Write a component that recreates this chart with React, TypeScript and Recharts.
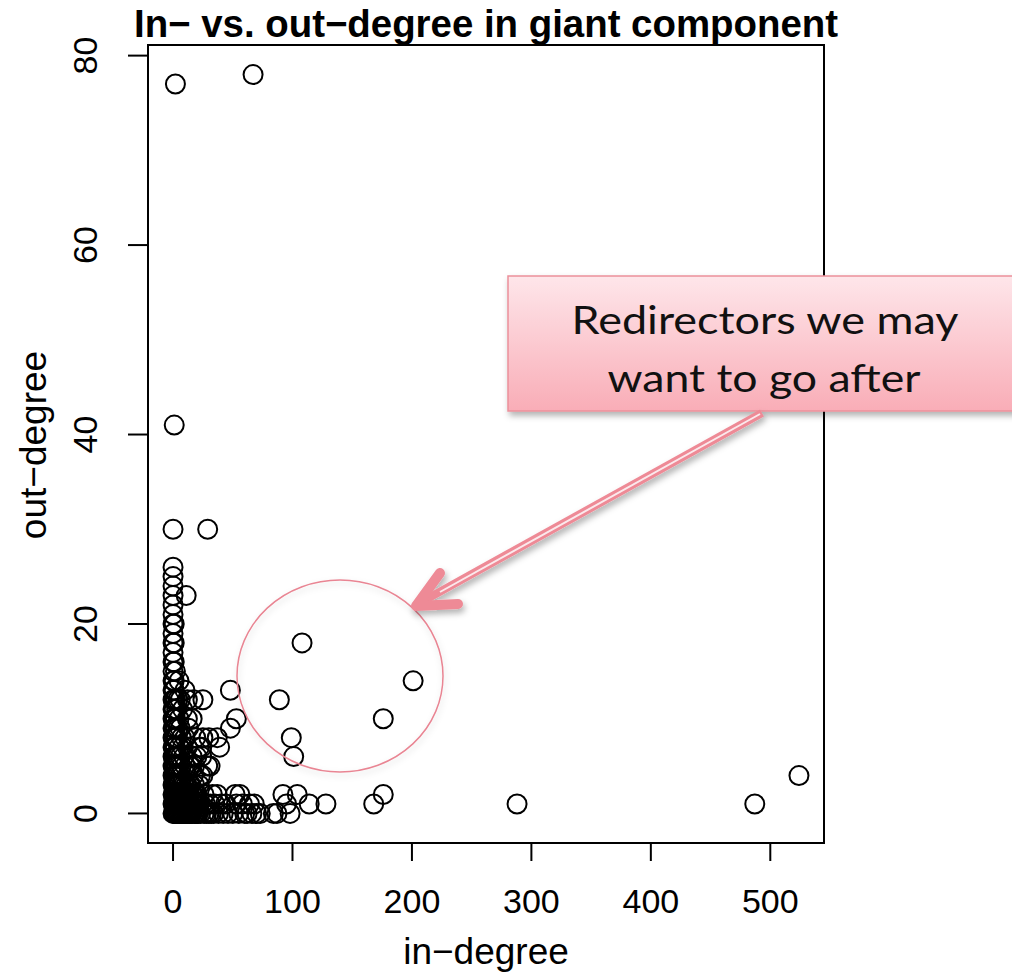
import { ReferenceArea, Scatter, ScatterChart, XAxis, YAxis } from "recharts";

// in-degree / out-degree pairs
const columnPoints: [number, number][] = [
  [0, 0], [0, 1], [0, 2], [0, 3], [0, 4], [0, 5], [0, 6], [0, 7], [0, 8], [0, 9],
  [0, 10], [0, 11], [0, 12], [0, 13], [0, 14], [0, 15], [0, 16], [0, 17], [0, 18],
  [0, 19], [0, 20], [0, 21], [0, 22], [0, 23], [0, 24], [0, 25], [0, 26], [0, 30],
  [1, 41], [2, 77],
  [1, 0], [1, 1], [1, 2], [1, 3], [1, 4], [1, 5], [1, 6], [1, 7], [1, 8], [1, 9],
  [1, 10], [1, 11], [1, 12], [1, 13], [1, 14], [1, 16], [1, 18], [1, 20],
  [2, 0], [2, 1], [2, 2], [2, 3], [2, 4], [2, 5], [2, 6], [2, 7], [2, 8], [2, 9],
  [2, 10], [2, 12], [2, 15],
  [3, 0], [3, 1], [3, 2], [3, 3], [3, 4], [3, 5], [3, 6], [3, 8], [3, 11],
  [4, 0], [4, 1], [4, 2], [4, 3], [4, 4], [4, 6], [4, 9], [4, 12],
];

const clusterPoints: [number, number][] = [
  [5, 14], [6, 12], [5, 0], [5, 1], [5, 2], [5, 3], [5, 5], [5, 7], [5, 10],
  [6, 0], [6, 1], [6, 2], [6, 4], [6, 6], [6, 9],
  [7, 0], [7, 1], [7, 2], [7, 3], [7, 5], [7, 8],
  [8, 0], [8, 1], [8, 2], [8, 4], [8, 7], [8, 11],
  [9, 0], [9, 1], [9, 2], [9, 3], [9, 6],
  [10, 0], [10, 1], [10, 2], [10, 5], [10, 8], [10, 13],
  [11, 0], [11, 1], [11, 2], [11, 3], [11, 23],
  [12, 0], [12, 2], [12, 4], [12, 7], [12, 10], [12, 12],
  [13, 0], [13, 1], [13, 2], [13, 9], [14, 0], [14, 1], [14, 2], [14, 3], [14, 5],
  [15, 0], [15, 1], [15, 3], [15, 5], [16, 0], [16, 2], [16, 6], [16, 10],
  [17, 1], [17, 2], [17, 4], [17, 12], [18, 0], [18, 1], [18, 3], [18, 5],
  [19, 0], [19, 1], [19, 2], [19, 8], [20, 0], [20, 1], [20, 2], [20, 6],
  [21, 0], [21, 1], [22, 1], [22, 3], [22, 7], [23, 0], [23, 4],
  [24, 6], [24, 7], [25, 4], [25, 8], [25, 12], [26, 0], [26, 2], [27, 1],
  [28, 0], [29, 5], [29, 30], [30, 0], [30, 8], [31, 1], [31, 5], [32, 0],
  [33, 2], [34, 0], [35, 1], [37, 2], [37, 8], [38, 0], [39, 7], [40, 1],
  [42, 0], [44, 1], [46, 0], [48, 9], [48, 13], [53, 10],
];

const tailPoints: [number, number][] = [
  [50, 0], [52, 2], [53, 1], [55, 0], [56, 2], [58, 1], [60, 0], [62, 0],
  [64, 1], [66, 0], [68, 1], [70, 0], [73, 0], [84, 0], [87, 0], [92, 2],
  [95, 1], [98, 0], [104, 2], [114, 1], [128, 1], [168, 1], [176, 2],
  [288, 1], [487, 1], [524, 4], [67, 78],
];

const redirectorPoints: [number, number][] = [
  [108, 18], [201, 14], [89, 12], [176, 10], [99, 8], [101, 6],
];

const X_TICKS = [0, 100, 200, 300, 400, 500];
const Y_TICKS = [0, 20, 40, 60, 80];
const X_DOMAIN: [number, number] = [-20.96, 544.96];
const Y_DOMAIN: [number, number] = [-3.12, 81.12];

const toRows = (pts: [number, number][]) => pts.map(([x, y]) => ({ x, y }));
const allPoints = [
  ...toRows(columnPoints),
  ...toRows(clusterPoints),
  ...toRows(tailPoints),
  ...toRows(redirectorPoints),
];

const FONT = "'Liberation Sans', Arial, Helvetica, sans-serif";
const PINK = "#ee8a96";

const Ring = (p: any) => (
  <circle cx={p.cx} cy={p.cy} r={9.5} fill="none" stroke="#000" strokeWidth={2} />
);

const XTick = (p: any) => (
  <text x={p.x} y={p.y + 52} textAnchor="middle" fontSize={34} fontFamily={FONT} fill="#000">
    {p.payload.value}
  </text>
);

const YTick = (p: any) => {
  const bx = p.x - 31;
  return (
    <text
      x={bx}
      y={p.y}
      transform={`rotate(-90, ${bx}, ${p.y})`}
      textAnchor="middle"
      fontSize={34}
      fontFamily={FONT}
      fill="#000"
    >
      {p.payload.value}
    </text>
  );
};

function Overlay() {
  return (
    <svg
      width={1012}
      height={977}
      style={{ position: "absolute", left: 0, top: 0, pointerEvents: "none" }}
    >
      <defs>
        <linearGradient id="boxFill" x1="0" y1="0" x2="0" y2="1">
          <stop offset="0%" stopColor="#fee6ea" />
          <stop offset="100%" stopColor="#f9adb7" />
        </linearGradient>
        <filter id="shadow" x="-20%" y="-20%" width="140%" height="150%">
          <feDropShadow dx="2" dy="4" stdDeviation="3" floodColor="#000" floodOpacity="0.3" />
        </filter>
        <filter id="softShadow" x="-20%" y="-20%" width="140%" height="140%">
          <feDropShadow dx="1" dy="3" stdDeviation="3" floodColor="#000" floodOpacity="0.15" />
        </filter>
      </defs>

      <text
        x={486}
        y={37}
        textAnchor="middle"
        fontSize={38}
        fontWeight="bold"
        fontFamily={FONT}
        fill="#000"
        textLength={704}
        lengthAdjust="spacingAndGlyphs"
      >
        In− vs. out−degree in giant component
      </text>
      <text x={486} y={964} textAnchor="middle" fontSize={37} fontFamily={FONT} fill="#000">
        in−degree
      </text>
      <text
        x={46}
        y={445}
        transform="rotate(-90, 46, 445)"
        textAnchor="middle"
        fontSize={37}
        fontFamily={FONT}
        fill="#000"
      >
        out−degree
      </text>

      <ellipse cx={340} cy={676} rx={103} ry={96} fill="none" stroke="#e98593" strokeWidth={1.5} filter="url(#softShadow)" />

      <g filter="url(#shadow)">
        <rect x={508} y={276} width={520} height={135} fill="url(#boxFill)" stroke="#eb909b" strokeWidth={1.5} />
      </g>
      <text x={765} y={334} textAnchor="middle" fontSize={38} fontFamily="Lato, 'Open Sans', sans-serif" fill="#111" textLength={387} lengthAdjust="spacingAndGlyphs">
        Redirectors we may
      </text>
      <text x={764} y={392} textAnchor="middle" fontSize={38} fontFamily="Lato, 'Open Sans', sans-serif" fill="#111" textLength={313} lengthAdjust="spacingAndGlyphs">
        want to go after
      </text>

      <g filter="url(#shadow)">
        <line x1={762} y1={413} x2={425} y2={600} stroke={PINK} strokeWidth={8} />
        <line x1={760} y1={414} x2={440} y2={592} stroke="#fbe9ec" strokeWidth={2} />
        <polyline
          points="440,573 416,606 458,604"
          fill="none"
          stroke={PINK}
          strokeWidth={10}
          strokeLinecap="round"
          strokeLinejoin="round"
        />
      </g>
    </svg>
  );
}

export default function App() {
  return (
    <div style={{ position: "absolute", left: 0, top: 0, width: 1012, height: 977, background: "#fff" }}>
      <ScatterChart width={1012} height={977} margin={{ top: 45, right: 188, bottom: 44, left: 48 }}>
        <XAxis
          dataKey="x"
          type="number"
          domain={X_DOMAIN}
          ticks={X_TICKS}
          allowDataOverflow
          axisLine={false}
          tickLine={{ stroke: "#000", strokeWidth: 2 }}
          tickSize={18}
          tickMargin={0}
          height={90}
          tick={<XTick />}
        />
        <YAxis
          dataKey="y"
          type="number"
          domain={Y_DOMAIN}
          ticks={Y_TICKS}
          allowDataOverflow
          axisLine={false}
          tickLine={{ stroke: "#000", strokeWidth: 2 }}
          tickSize={20}
          tickMargin={0}
          width={100}
          tick={<YTick />}
        />
        <ReferenceArea
          x1={X_DOMAIN[0]}
          x2={X_DOMAIN[1]}
          y1={Y_DOMAIN[0]}
          y2={Y_DOMAIN[1]}
          fill="none"
          stroke="#000"
          strokeWidth={2}
          ifOverflow="visible"
        />
        <Scatter data={allPoints} shape={Ring} isAnimationActive={false} />
      </ScatterChart>
      <Overlay />
    </div>
  );
}
